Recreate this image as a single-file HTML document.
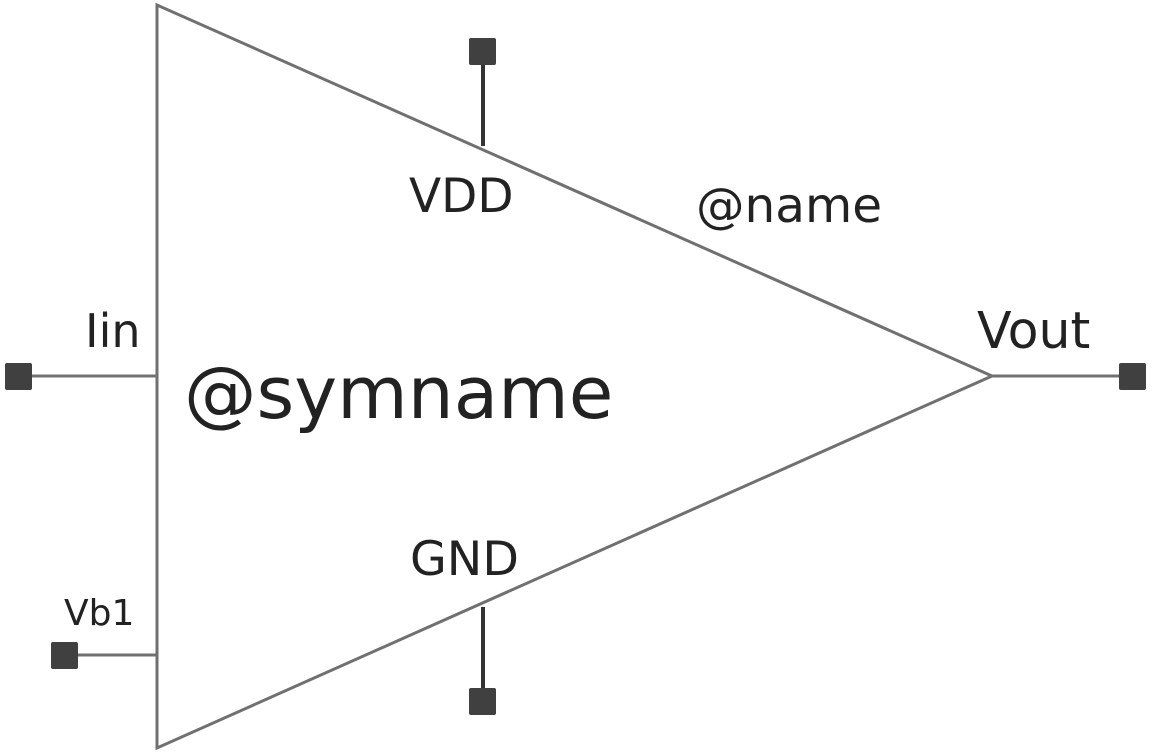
<!DOCTYPE html>
<html><head><meta charset="utf-8"><style>
html,body{margin:0;padding:0;background:#fff;width:1153px;height:754px;overflow:hidden}
text{font-family:"DejaVu Sans","Liberation Sans",sans-serif;fill:#222}
</style></head><body>
<svg width="1153" height="754" viewBox="0 0 1153 754" xmlns="http://www.w3.org/2000/svg">
<g stroke="#707070" stroke-width="3" fill="none">
<polygon points="157,5 157,748 992,376"/>
<line x1="18" y1="376" x2="157" y2="376"/>
<line x1="64" y1="655" x2="157" y2="655"/>
<line x1="992" y1="376" x2="1132" y2="376"/>
</g>
<g stroke="#333" stroke-width="4">
<line x1="483" y1="50" x2="483" y2="146"/>
<line x1="483" y1="607" x2="483" y2="702"/>
</g>
<g fill="#404040">
<rect x="469" y="38" width="27" height="27" rx="2"/>
<rect x="469" y="688" width="27" height="27" rx="2"/>
<rect x="5" y="363" width="27" height="27" rx="2"/>
<rect x="51" y="642" width="27" height="27" rx="2"/>
<rect x="1119" y="363" width="27" height="27" rx="2"/>
</g>
<text x="409" y="212" font-size="47">VDD</text>
<text x="410" y="575" font-size="47.5">GND</text>
<text x="696" y="222" font-size="48.5">@name</text>
<text x="85" y="347" font-size="46">Iin</text>
<text x="977" y="348" font-size="50.5">Vout</text>
<text x="64" y="625" font-size="36">Vb1</text>
<text x="184" y="418" font-size="72.5">@symname</text>
</svg>
</body></html>
